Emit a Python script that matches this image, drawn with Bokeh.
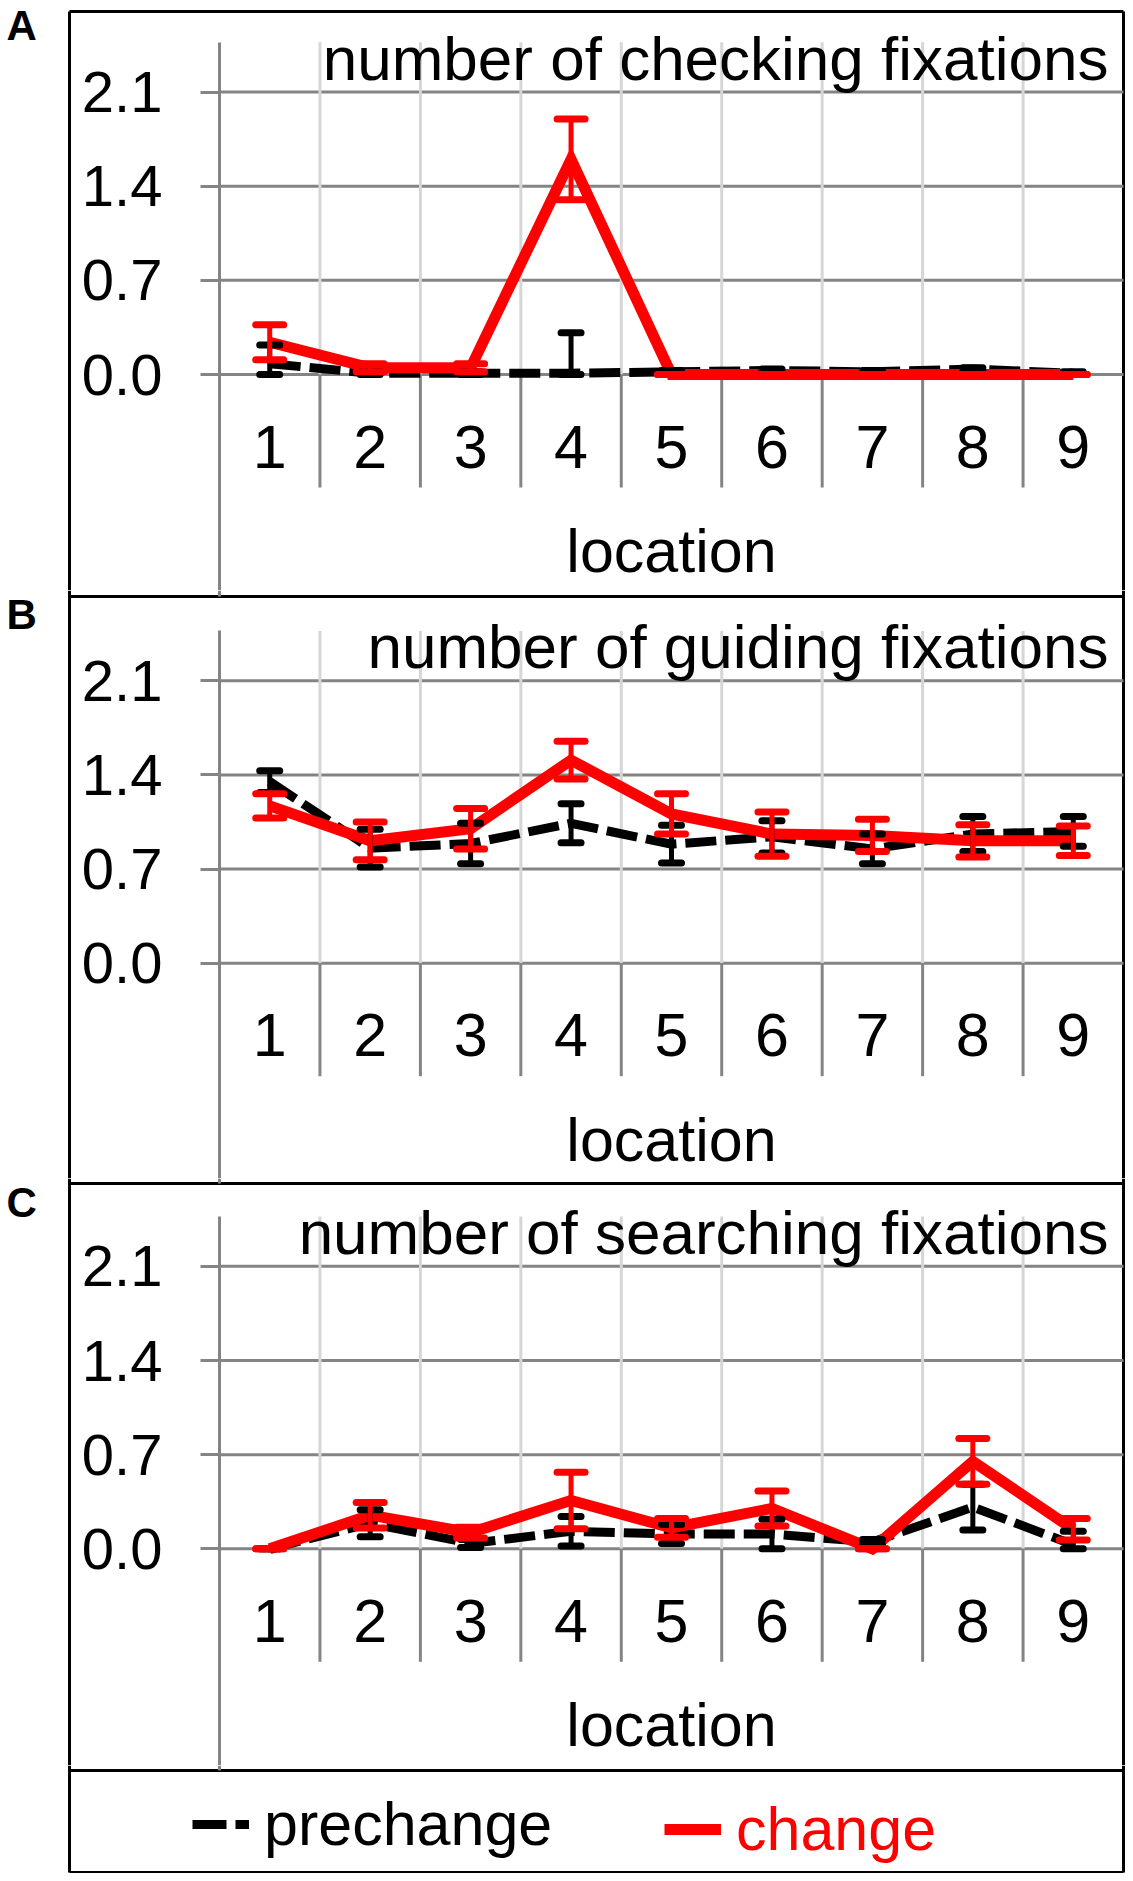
from bokeh.plotting import figure
from bokeh.models import (Range1d, LinearAxis, FixedTicker, Label, ColumnDataSource,
                          Whisker, TeeHead, Legend, LegendItem, NumeralTickFormatter)
from bokeh.layouts import column
from bokeh.embed import file_html
from bokeh.resources import INLINE

# ---------------- data ----------------
locations = [1, 2, 3, 4, 5, 6, 7, 8, 9]
location_labels = ["1", "2", "3", "4", "5", "6", "7", "8", "9"]
location_bounds = [0.5, 1.5, 2.5, 3.5, 4.5, 5.5, 6.5, 7.5, 8.5, 9.5]
y_ticks = [0.0, 0.7, 1.4, 2.1]
y_tick_labels = ["0.0", "0.7", "1.4", "2.1"]
y_top = 2.47
panel_letters = ["A", "B", "C"]
panel_titles = ["number of checking fixations",
                "number of guiding fixations",
                "number of searching fixations"]
x_axis_title = "location"
series_names = ["prechange", "change"]

checking_prechange = [0.08, 0.01, 0.01, 0.01, 0.02, 0.03, 0.02, 0.04, 0.01]
checking_prechange_err = [0.14, 0.01, 0.01, 0.30, 0.01, 0.01, 0.01, 0.01, 0.01]
checking_change = [0.24, 0.05, 0.05, 1.60, 0.0, 0.0, 0.0, 0.0, 0.0]
checking_change_err = [0.13, 0.03, 0.03, 0.30, 0.0, 0.0, 0.0, 0.0, 0.0]

guiding_prechange = [1.35, 0.855, 0.89, 1.04, 0.885, 0.94, 0.85, 0.96, 0.98]
guiding_prechange_err = [0.08, 0.14, 0.15, 0.145, 0.14, 0.12, 0.11, 0.13, 0.11]
guiding_change = [1.17, 0.91, 1.00, 1.51, 1.11, 0.96, 0.95, 0.91, 0.91]
guiding_change_err = [0.09, 0.14, 0.15, 0.14, 0.15, 0.165, 0.12, 0.12, 0.11]

searching_prechange = [0.0, 0.19, 0.04, 0.13, 0.11, 0.11, 0.05, 0.31, 0.03]
searching_prechange_err = [0.0, 0.10, 0.03, 0.11, 0.07, 0.11, 0.02, 0.17, 0.10]
searching_change = [0.0, 0.25, 0.12, 0.36, 0.155, 0.30, 0.0, 0.65, 0.145]
searching_change_err = [0.0, 0.095, 0.04, 0.21, 0.07, 0.13, 0.0, 0.17, 0.08]

panels_data = [
    (checking_prechange, checking_prechange_err, checking_change, checking_change_err),
    (guiding_prechange, guiding_prechange_err, guiding_change, guiding_change_err),
    (searching_prechange, searching_prechange_err, searching_change, searching_change_err),
]

# ---------------- style / layout ----------------
FONT = "Liberation Sans"
FS = "61px"
TITLE_FS = "62px"
YLAB_FS = "58px"
LETTER_FS = "42px"
RED = "#ff0000"
DARK = "#848484"
LIGHT = "#d6d6d6"
W = 1125
AXIS_PX = 219          # canvas x of category edge 0.5
RIGHT_PX = 1123        # canvas x of category edge 9.5 (= box right)
BOX_LEFT_PX = 69
PPX = (RIGHT_PX - AXIS_PX) / 9.0
PPY = 134.5
BOX_W = 3


def px_to_x(px):
    return 0.5 + (px - AXIS_PX) / PPX


def make_panel(letter, title, pre, pre_err, chg, chg_err,
               page_start, page_end, box_top_page, zero_page, letter_mid_page, first):
    height = page_end - page_start
    zero = zero_page - page_start
    y_end = zero / PPY
    y_start = -(height - zero) / PPY

    def py(page_px):
        return (zero_page - page_px) / PPY

    p = figure(width=W, height=height, x_range=Range1d(px_to_x(0), px_to_x(W)),
               y_range=Range1d(y_start, y_end), output_backend="svg",
               toolbar_location=None, x_axis_location=None, y_axis_location=None,
               min_border_left=0, min_border_right=0, min_border_top=0, min_border_bottom=0)
    p.xgrid.visible = False
    p.ygrid.visible = False
    p.outline_line_color = None
    p.background_fill_color = "white"
    p.border_fill_color = "white"

    # panel frame: top edge, and side edges running through the whole canvas
    x_left = px_to_x(BOX_LEFT_PX)
    x_right = location_bounds[-1]
    side_top = py(box_top_page) if first else y_end
    p.segment(x0=[x_left, x_left, x_right], x1=[x_right, x_left, x_right],
              y0=[py(box_top_page), side_top, side_top],
              y1=[py(box_top_page), y_start, y_start],
              line_color="black", line_width=BOX_W, level="underlay")
    if not first:
        # continuation of the previous panel's value axis down to this box edge
        p.segment(x0=[location_bounds[0]], x1=[location_bounds[0]], y0=[y_end],
                  y1=[py(box_top_page)], line_color=DARK, line_width=3, level="underlay")

    # horizontal grid lines and light vertical category separators
    p.segment(x0=[location_bounds[0]] * len(y_ticks), x1=[location_bounds[-1]] * len(y_ticks),
              y0=y_ticks, y1=y_ticks, line_color=DARK, line_width=3, level="underlay")
    inner = location_bounds[1:-1]
    p.segment(x0=inner, x1=inner, y0=[0] * len(inner), y1=[y_top] * len(inner),
              line_color=LIGHT, line_width=3, level="underlay")
    # category separators below the value axis
    sep_bottom = -113 / PPY
    p.segment(x0=inner, x1=inner, y0=[0] * len(inner), y1=[sep_bottom] * len(inner),
              line_color=DARK, line_width=3, level="underlay")

    # y axis drawn at the left category edge
    yax = LinearAxis(fixed_location=location_bounds[0],
                     ticker=FixedTicker(ticks=y_ticks, minor_ticks=[]),
                     formatter=NumeralTickFormatter(format="0.0"),
                     major_label_overrides=dict(zip(y_ticks, y_tick_labels)),
                     bounds=(y_start, y_top))
    yax.axis_line_color = DARK
    yax.axis_line_width = 3
    yax.major_tick_line_color = DARK
    yax.major_tick_line_width = 3
    yax.major_tick_out = 19
    yax.major_tick_in = 0
    yax.minor_tick_line_color = None
    yax.major_label_text_font = FONT
    yax.major_label_text_font_size = YLAB_FS
    yax.major_label_text_color = "black"
    yax.major_label_standoff = 38
    p.add_layout(yax, "left")

    # x axis drawn at y = 0
    xax = LinearAxis(fixed_location=0,
                     ticker=FixedTicker(ticks=locations, minor_ticks=[]),
                     major_label_overrides=dict(zip(locations, location_labels)),
                     bounds=(location_bounds[0], location_bounds[-1]),
                     axis_label=x_axis_title)
    xax.axis_line_color = None
    xax.major_tick_line_color = None
    xax.minor_tick_line_color = None
    xax.major_tick_out = 0
    xax.major_tick_in = 0
    xax.minor_tick_out = 0
    xax.minor_tick_in = 0
    xax.major_label_text_font = FONT
    xax.major_label_text_font_size = FS
    xax.major_label_text_color = "black"
    xax.major_label_standoff = 51
    xax.axis_label_text_font = FONT
    xax.axis_label_text_font_size = FS
    xax.axis_label_text_font_style = "normal"
    xax.axis_label_text_color = "black"
    xax.axis_label_standoff = 46
    p.add_layout(xax, "below")

    pre_lo = [max(m - e, 0.0) for m, e in zip(pre, pre_err)]
    pre_hi = [m + e for m, e in zip(pre, pre_err)]
    chg_lo = [max(m - e, 0.0) for m, e in zip(chg, chg_err)]
    chg_hi = [m + e for m, e in zip(chg, chg_err)]

    pre_src = ColumnDataSource(dict(x=locations, y=pre, lo=pre_lo, hi=pre_hi))
    chg_src = ColumnDataSource(dict(x=locations, y=chg, lo=chg_lo, hi=chg_hi))

    p.add_layout(Whisker(source=pre_src, base="x", lower="lo", upper="hi",
                         line_color="black", line_width=5, level="glyph",
                         upper_head=TeeHead(size=20, line_color="black", line_width=7, line_cap="round"),
                         lower_head=TeeHead(size=20, line_color="black", line_width=7, line_cap="round")))
    p.line("x", "y", source=pre_src, line_color="black", line_width=9,
           line_dash="31 9", line_join="miter")
    p.add_layout(Whisker(source=chg_src, base="x", lower="lo", upper="hi",
                         line_color=RED, line_width=5, level="glyph",
                         upper_head=TeeHead(size=28, line_color=RED, line_width=7, line_cap="round"),
                         lower_head=TeeHead(size=28, line_color=RED, line_width=7, line_cap="round")))
    p.line("x", "y", source=chg_src, line_color=RED, line_width=11, line_join="miter")

    p.add_layout(Label(x=px_to_x(1108), y=351 / PPY, text=title, text_align="right",
                       text_baseline="top", text_font=FONT, text_font_size=TITLE_FS,
                       text_color="black"))
    p.add_layout(Label(x=px_to_x(6), y=py(letter_mid_page), text=letter, text_align="left",
                       text_baseline="middle", text_font=FONT, text_font_size=LETTER_FS,
                       text_font_style="bold", text_color="black"))
    return p


# page pixel geometry: (canvas start, canvas end, box top, zero line, letter centre)
geom = [(0, 590, 11, 374.0, 25),
        (590, 1178, 596, 962.7, 614),
        (1178, 1765, 1183, 1548.3, 1202)]
panels = []
for i in range(3):
    pre, pre_err, chg, chg_err = panels_data[i]
    s, e, bt, z, lm = geom[i]
    panels.append(make_panel(panel_letters[i], panel_titles[i], pre, pre_err, chg, chg_err,
                             s, e, bt, z, lm, i == 0))

# ---------------- legend panel ----------------
LG_START, LG_END, LG_BOX_TOP, LG_BOX_BOTTOM = 1765, 1873, 1770, 1872
LH = LG_END - LG_START
lg = figure(width=W, height=LH, x_range=Range1d(0, W), y_range=Range1d(LH, 0),
            output_backend="svg", toolbar_location=None, x_axis_location=None,
            y_axis_location=None, min_border_left=0, min_border_right=0,
            min_border_top=0, min_border_bottom=0)
lg.xgrid.visible = False
lg.ygrid.visible = False
lg.outline_line_color = None
bt_c = LG_BOX_TOP - LG_START
bb_c = LG_BOX_BOTTOM - LG_START
lg.segment(x0=[BOX_LEFT_PX, BOX_LEFT_PX, BOX_LEFT_PX, RIGHT_PX],
           x1=[RIGHT_PX, RIGHT_PX, BOX_LEFT_PX, RIGHT_PX],
           y0=[bt_c, bb_c, 0, 0], y1=[bt_c, bb_c, bb_c, bb_c],
           line_color="black", line_width=BOX_W)
lg.segment(x0=[AXIS_PX], x1=[AXIS_PX], y0=[0], y1=[bt_c], line_color=DARK, line_width=3)
r_pre = lg.line(x=[-50, -40], y=[-50, -50], line_color="black", line_width=9, line_dash="34 9")
r_chg = lg.line(x=[-50, -40], y=[-50, -50], line_color=RED, line_width=11)

for name, rend, loc, col in [(series_names[0], r_pre, (192, 14), "black"),
                             (series_names[1], r_chg, (664, 9), RED)]:
    leg = Legend(items=[LegendItem(label=name, renderers=[rend])], location=loc,
                 orientation="horizontal", glyph_width=57, glyph_height=20,
                 label_standoff=15, label_text_font=FONT, label_text_font_size=FS,
                 label_text_color=col, border_line_color=None,
                 background_fill_alpha=0, padding=0, margin=0, spacing=0)
    lg.add_layout(leg)

layout = column(*panels, lg, spacing=0)
open("out.html", "w").write(file_html(layout, INLINE))
